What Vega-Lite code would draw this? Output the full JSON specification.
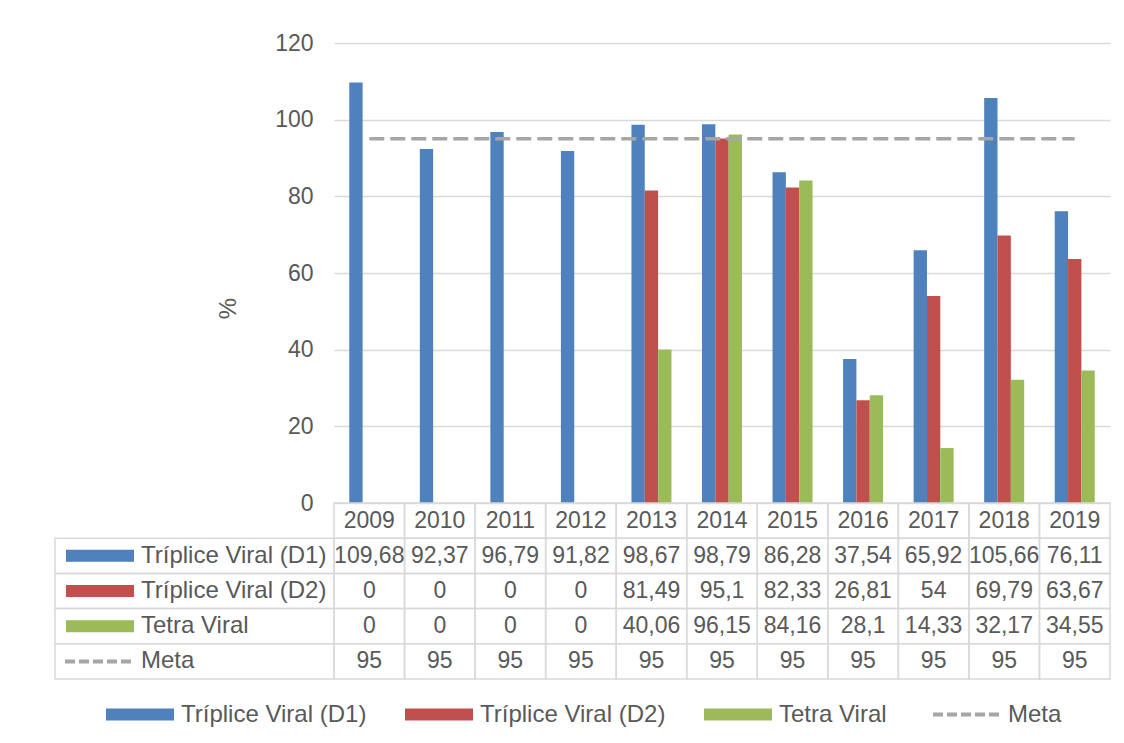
{
  "$schema": "https://vega.github.io/schema/vega-lite/v6.json",
  "padding": {"left": 54, "top": 32, "right": 15, "bottom": 5},
  "background": "white",
  "config": {
    "font": "Liberation Sans",
    "view": {"stroke": null},
    "locale": {"number": {"decimal": ",", "thousands": ".", "grouping": [3], "currency": ["R$ ", ""]}}
  },
  "data": {"values": [
    {"year": "2009", "series": "Tríplice Viral (D1)", "value": 109.68},
    {"year": "2010", "series": "Tríplice Viral (D1)", "value": 92.37},
    {"year": "2011", "series": "Tríplice Viral (D1)", "value": 96.79},
    {"year": "2012", "series": "Tríplice Viral (D1)", "value": 91.82},
    {"year": "2013", "series": "Tríplice Viral (D1)", "value": 98.67},
    {"year": "2014", "series": "Tríplice Viral (D1)", "value": 98.79},
    {"year": "2015", "series": "Tríplice Viral (D1)", "value": 86.28},
    {"year": "2016", "series": "Tríplice Viral (D1)", "value": 37.54},
    {"year": "2017", "series": "Tríplice Viral (D1)", "value": 65.92},
    {"year": "2018", "series": "Tríplice Viral (D1)", "value": 105.66},
    {"year": "2019", "series": "Tríplice Viral (D1)", "value": 76.11},
    {"year": "2009", "series": "Tríplice Viral (D2)", "value": 0},
    {"year": "2010", "series": "Tríplice Viral (D2)", "value": 0},
    {"year": "2011", "series": "Tríplice Viral (D2)", "value": 0},
    {"year": "2012", "series": "Tríplice Viral (D2)", "value": 0},
    {"year": "2013", "series": "Tríplice Viral (D2)", "value": 81.49},
    {"year": "2014", "series": "Tríplice Viral (D2)", "value": 95.1},
    {"year": "2015", "series": "Tríplice Viral (D2)", "value": 82.33},
    {"year": "2016", "series": "Tríplice Viral (D2)", "value": 26.81},
    {"year": "2017", "series": "Tríplice Viral (D2)", "value": 54},
    {"year": "2018", "series": "Tríplice Viral (D2)", "value": 69.79},
    {"year": "2019", "series": "Tríplice Viral (D2)", "value": 63.67},
    {"year": "2009", "series": "Tetra Viral", "value": 0},
    {"year": "2010", "series": "Tetra Viral", "value": 0},
    {"year": "2011", "series": "Tetra Viral", "value": 0},
    {"year": "2012", "series": "Tetra Viral", "value": 0},
    {"year": "2013", "series": "Tetra Viral", "value": 40.06},
    {"year": "2014", "series": "Tetra Viral", "value": 96.15},
    {"year": "2015", "series": "Tetra Viral", "value": 84.16},
    {"year": "2016", "series": "Tetra Viral", "value": 28.1},
    {"year": "2017", "series": "Tetra Viral", "value": 14.33},
    {"year": "2018", "series": "Tetra Viral", "value": 32.17},
    {"year": "2019", "series": "Tetra Viral", "value": 34.55},
    {"year": "2009", "series": "Meta", "value": 95},
    {"year": "2010", "series": "Meta", "value": 95},
    {"year": "2011", "series": "Meta", "value": 95},
    {"year": "2012", "series": "Meta", "value": 95},
    {"year": "2013", "series": "Meta", "value": 95},
    {"year": "2014", "series": "Meta", "value": 95},
    {"year": "2015", "series": "Meta", "value": 95},
    {"year": "2016", "series": "Meta", "value": 95},
    {"year": "2017", "series": "Meta", "value": 95},
    {"year": "2018", "series": "Meta", "value": 95},
    {"year": "2019", "series": "Meta", "value": 95}
  ]},
  "columns": 2,
  "spacing": 0,
  "bounds": "flush",
  "resolve": {"scale": {"color": "shared"}, "legend": {"color": "shared"}},
  "concat": [
    {
      "width": 279,
      "height": 460,
      "transform": [{"filter": "datum.year === '2009' && datum.series === 'Meta'"}],
      "mark": {"type": "text", "text": ""}
    },
    {
      "width": 776,
      "height": 460,
      "encoding": {
        "x": {"field": "year", "type": "nominal", "axis": null, "scale": {"paddingInner": 0.433, "paddingOuter": 0.2165}}
      },
      "layer": [
        {
          "transform": [{"filter": "datum.series !== 'Meta'"}],
          "mark": {"type": "bar"},
          "encoding": {
            "xOffset": {"field": "series", "type": "nominal", "scale": {"domain": ["Tríplice Viral (D1)", "Tríplice Viral (D2)", "Tetra Viral"], "paddingInner": 0, "paddingOuter": 0}},
            "y": {
              "field": "value", "type": "quantitative",
              "scale": {"domain": [0, 120], "nice": false},
              "axis": {
                "values": [0, 20, 40, 60, 80, 100, 120],
                "domain": false, "ticks": false,
                "gridColor": "#d9d9d9", "gridWidth": 1.5,
                "labelFontSize": 23, "labelColor": "#595959", "labelPadding": 21,
                "title": "%", "titleFontSize": 24, "titleFontWeight": "normal", "titleColor": "#595959", "titlePadding": 34,
                "titleY": 265
              }
            },
            "color": {
              "field": "series", "type": "nominal",
              "scale": {"domain": ["Tríplice Viral (D1)", "Tríplice Viral (D2)", "Tetra Viral", "Meta"], "range": ["#4F81BD", "#C0504D", "#9BBB59", "#A6A6A6"]},
              "legend": {
                "orient": "none", "legendX": 73, "legendY": 659.5,
                "direction": "horizontal", "title": null,
                "labelFontSize": 24, "labelColor": "#595959", "labelLimit": 400,
                "symbolSize": 4624, "labelOffset": 29, "columnPadding": 38,
                "encode": {
                  "symbols": {
                    "update": {
                      "shape": {"signal": "datum.value === 'Meta' ? 'stroke' : 'M-1,-0.18H1V0.18H-1Z'"},
                      "fill": {"signal": "datum.value === 'Meta' ? 'transparent' : scale('color', datum.value)"},
                      "stroke": {"signal": "scale('color', datum.value)"},
                      "strokeWidth": {"signal": "datum.value === 'Meta' ? 4 : 0"},
                      "strokeDash": {"signal": "datum.value === 'Meta' ? [10, 4] : [1, 0]"},
                      "opacity": {"value": 1}
                    }
                  }
                }
              }
            }
          }
        },
        {
          "transform": [{"filter": "datum.series === 'Meta'"}],
          "mark": {"type": "line", "strokeDash": [15, 6], "strokeWidth": 3.5},
          "encoding": {
            "y": {"field": "value", "type": "quantitative"},
            "color": {"field": "series", "type": "nominal"}
          }
        }
      ]
    },
    {
      "width": 279,
      "height": 176,
      "transform": [{"filter": "datum.year === '2009'"}],
      "encoding": {
        "y": {"field": "series", "type": "nominal", "axis": null, "scale": {"domain": ["header", "Tríplice Viral (D1)", "Tríplice Viral (D2)", "Tetra Viral", "Meta"], "paddingInner": 0, "paddingOuter": 0}}
      },
      "layer": [
        {
          "mark": {"type": "rect", "filled": false, "stroke": "#d9d9d9", "strokeWidth": 1.5},
          "encoding": {
            "x": {"datum": 0, "type": "quantitative", "scale": {"domain": [0, 279], "nice": false}, "axis": null},
            "x2": {"datum": 279}
          }
        },
        {
          "transform": [{"filter": "datum.series !== 'Meta'"}],
          "mark": {"type": "bar", "height": 12},
          "encoding": {
            "x": {"datum": 11, "type": "quantitative"},
            "x2": {"datum": 79},
            "color": {"field": "series", "type": "nominal"}
          }
        },
        {
          "transform": [{"filter": "datum.series === 'Meta'"}],
          "mark": {"type": "rule", "strokeDash": [10, 4], "strokeWidth": 4},
          "encoding": {
            "x": {"datum": 10, "type": "quantitative"},
            "x2": {"datum": 79},
            "color": {"field": "series", "type": "nominal"}
          }
        },
        {
          "mark": {"type": "text", "align": "left", "fontSize": 24, "color": "#595959"},
          "encoding": {
            "x": {"datum": 86, "type": "quantitative"},
            "text": {"field": "series"}
          }
        }
      ]
    },
    {
      "width": 776,
      "height": 176,
      "encoding": {
        "x": {"field": "year", "type": "nominal", "axis": null, "scale": {"paddingInner": 0, "paddingOuter": 0}},
        "y": {"field": "series", "type": "nominal", "axis": null, "scale": {"domain": ["header", "Tríplice Viral (D1)", "Tríplice Viral (D2)", "Tetra Viral", "Meta"], "paddingInner": 0, "paddingOuter": 0}}
      },
      "layer": [
        {
          "mark": {"type": "rect", "filled": false, "stroke": "#d9d9d9", "strokeWidth": 1.5}
        },
        {
          "mark": {"type": "text", "fontSize": 23, "color": "#595959"},
          "encoding": {"text": {"field": "value", "type": "quantitative", "format": ".2~f"}}
        },
        {
          "transform": [{"filter": "datum.series === 'Meta'"}],
          "mark": {"type": "rect", "filled": false, "stroke": "#d9d9d9", "strokeWidth": 1.5},
          "encoding": {"y": {"datum": "header", "type": "nominal"}}
        },
        {
          "transform": [{"filter": "datum.series === 'Meta'"}],
          "mark": {"type": "text", "fontSize": 23, "color": "#595959"},
          "encoding": {"y": {"datum": "header", "type": "nominal"}, "text": {"field": "year"}}
        }
      ]
    }
  ]
}
